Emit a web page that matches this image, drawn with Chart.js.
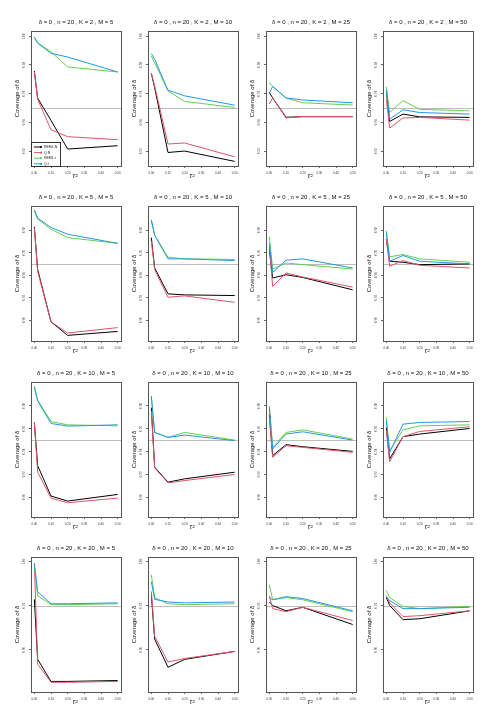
<!DOCTYPE html>
<html>
<head>
<meta charset="utf-8">
<script src="https://cdn.jsdelivr.net/npm/chart.js@4/dist/chart.umd.min.js"></script>
<style>
  html, body { margin: 0; padding: 0; background: #fff; }
  #wrap { position: relative; width: 495px; height: 726px; overflow: hidden; background: #fff; }
  #wrap canvas { position: absolute; }
</style>
</head>
<body>
<div id="wrap"></div>
<script>
// ---- data -------------------------------------------------------------
var tau2 = [0, 0.02, 0.1, 0.2, 0.5];
var Kvals = [2, 5, 10, 20];
var Mvals = [5, 10, 25, 50];
var seriesNames = ['REML.N', 'Q.N', 'REML.t', 'Q.t'];
var seriesColors = ['#000000', '#DF536B', '#61D04F', '#2297E6'];
var xTicks = [0, 0.1, 0.2, 0.3, 0.4, 0.5];
var nominal = 0.95;

// y ticks / ranges per row (K)
var yTicksK2 = [0.92, 0.94, 0.96, 0.98, 1.00];
var yTicksK5 = [0.90, 0.92, 0.94, 0.96, 0.98];
var yTicksK10 = [0.90, 0.92, 0.94, 0.96, 0.98];
var yTicksK20 = [0.90, 0.95, 1.00];
var yRangeK2 = [0.9096, 1.0035];
var yRangeK5 = [0.8815, 1.0015];
var yRangeK10 = [0.8825, 1.001];
var yRangeK20 = [0.852, 1.005];

// coverage, one inner array per M (5, 10, 25, 50)
var remlN_K2 = [[0.9757, 0.9568, 0.9413, 0.9214, 0.9237], [0.974, 0.964, 0.919, 0.920, 0.9128], [0.9607, 0.957, 0.9435, 0.9439, 0.9439], [0.962, 0.9406, 0.9457, 0.9438, 0.9434]];
var qN_K2    = [[0.975, 0.956, 0.9348, 0.930, 0.9279], [0.9739, 0.9653, 0.9249, 0.9256, 0.916], [0.9527, 0.957, 0.943, 0.944, 0.944], [0.956, 0.936, 0.943, 0.9434, 0.9415]];
var remlT_K2 = [[0.9995, 0.9954, 0.989, 0.9785, 0.975], [0.9861, 0.9815, 0.9618, 0.9545, 0.9503], [0.9677, 0.9647, 0.9568, 0.9536, 0.952], [0.9646, 0.9469, 0.955, 0.949, 0.948]];
var qT_K2    = [[0.9988, 0.995, 0.988, 0.9854, 0.975], [0.9877, 0.9838, 0.9623, 0.9584, 0.9519], [0.9603, 0.965, 0.957, 0.9555, 0.9536], [0.9623, 0.9422, 0.9487, 0.9468, 0.9457]];

var remlN_K5 = [[0.983, 0.945, 0.8985, 0.8865, 0.890], [0.9734, 0.9464, 0.9234, 0.9225, 0.9219], [0.9629, 0.9375, 0.9404, 0.938, 0.927], [0.9719, 0.9524, 0.9515, 0.9494, 0.95]];
var qN_K5    = [[0.982, 0.9434, 0.8985, 0.8886, 0.8934], [0.9704, 0.945, 0.9204, 0.9216, 0.9159], [0.9653, 0.93, 0.942, 0.9384, 0.9294], [0.972, 0.948, 0.953, 0.9488, 0.9464]];
var remlT_K5 = [[0.9968, 0.9899, 0.9809, 0.9734, 0.9683], [0.9884, 0.9755, 0.956, 0.9545, 0.954], [0.9743, 0.9455, 0.9509, 0.9494, 0.9455], [0.9794, 0.9563, 0.9584, 0.9545, 0.9515]];
var qT_K5    = [[0.9983, 0.9908, 0.9824, 0.9764, 0.9683], [0.9893, 0.9755, 0.9545, 0.9545, 0.953], [0.9683, 0.9425, 0.9533, 0.9545, 0.9464], [0.978, 0.9524, 0.9575, 0.9524, 0.95]];

var remlN_K10 = [[0.9655, 0.9276, 0.9009, 0.8965, 0.9023], [0.9785, 0.9262, 0.9131, 0.916, 0.9218], [0.9727, 0.9364, 0.946, 0.9442, 0.9401], [0.9611, 0.9335, 0.953, 0.9553, 0.9602]];
var qN_K10    = [[0.9655, 0.9218, 0.8991, 0.895, 0.8991], [0.9756, 0.9256, 0.9125, 0.9145, 0.9198], [0.9698, 0.9349, 0.9451, 0.9436, 0.9393], [0.9582, 0.9311, 0.953, 0.9576, 0.9617]];
var remlT_K10 = [[0.9975, 0.985, 0.9663, 0.9634, 0.9625], [0.9873, 0.9567, 0.9524, 0.9567, 0.95], [0.98, 0.9436, 0.9567, 0.959, 0.9509], [0.9698, 0.9407, 0.959, 0.9625, 0.9634]];
var qT_K10    = [[0.996, 0.9844, 0.9646, 0.9623, 0.9634], [0.9887, 0.9567, 0.9524, 0.9544, 0.9495], [0.9785, 0.9422, 0.9553, 0.9573, 0.95], [0.9669, 0.9393, 0.964, 0.9655, 0.9663]];

var remlN_K20 = [[0.957, 0.889, 0.864, 0.864, 0.865], [0.962, 0.912, 0.880, 0.889, 0.898], [0.954, 0.950, 0.944, 0.948, 0.9285], [0.959, 0.950, 0.934, 0.935, 0.944]];
var qN_K20    = [[0.998, 0.8835, 0.863, 0.863, 0.864], [0.966, 0.915, 0.886, 0.890, 0.898], [0.961, 0.9465, 0.943, 0.948, 0.933], [0.961, 0.953, 0.9375, 0.9385, 0.944]];
var remlT_K20 = [[0.996, 0.961, 0.951, 0.951, 0.952], [0.9848, 0.959, 0.952, 0.951, 0.952], [0.9735, 0.9566, 0.959, 0.9566, 0.943], [0.967, 0.959, 0.949, 0.9465, 0.949]];
var qT_K20    = [[0.998, 0.9656, 0.952, 0.952, 0.953], [0.977, 0.957, 0.954, 0.953, 0.954], [0.959, 0.9566, 0.960, 0.958, 0.944], [0.960, 0.9555, 0.9465, 0.9465, 0.948]];

var rows = [
    { yTicks: yTicksK2, yRange: yRangeK2, series: [remlN_K2, qN_K2, remlT_K2, qT_K2] },
    { yTicks: yTicksK5, yRange: yRangeK5, series: [remlN_K5, qN_K5, remlT_K5, qT_K5] },
    { yTicks: yTicksK10, yRange: yRangeK10, series: [remlN_K10, qN_K10, remlT_K10, qT_K10] },
    { yTicks: yTicksK20, yRange: yRangeK20, series: [remlN_K20, qN_K20, remlT_K20, qT_K20] }
];

// ---- layout (plot box positions) --------------------------------------
var boxLeft = [31, 148, 265.5, 382.5];
var boxTop = [30.5, 206, 381.5, 557];
var boxW = 90, boxH = 135;
var padL = 31, padT = 30, padR = 3, padB = 16;
var FONT = '"Liberation Sans", Arial, Helvetica, sans-serif';

// ---- decorations: box, reference line, titles, y labels, legend --------
var panelDecor = {
    id: 'panelDecor',
    beforeDatasetsDraw: function (chart) {
        var a = chart.chartArea, ctx = chart.ctx;
        var y = Math.round(chart.scales.y.getPixelForValue(nominal)) + 0.5;
        ctx.save();
        ctx.strokeStyle = '#bdbdbd';
        ctx.lineWidth = 1;
        ctx.beginPath();
        ctx.moveTo(a.left, y);
        ctx.lineTo(a.right, y);
        ctx.stroke();
        ctx.restore();
    },
    afterDraw: function (chart, args, opts) {
        var a = chart.chartArea, ctx = chart.ctx, ys = chart.scales.y;
        ctx.save();
        // box
        ctx.strokeStyle = '#555';
        ctx.lineWidth = 1;
        ctx.strokeRect(Math.round(a.left) + 0.5, Math.round(a.top) + 0.5, Math.round(a.right - a.left), Math.round(a.bottom - a.top));

        // main title
        ctx.fillStyle = '#111';
        ctx.textAlign = 'center';
        ctx.textBaseline = 'middle';
        ctx.font = '6px ' + FONT;
        ctx.fillText(opts.title, (a.left + a.right) / 2, a.top - 9);

        // x title
        ctx.font = 'italic 7px ' + FONT;
        ctx.fillText('\u03C4\u00B2', (a.left + a.right) / 2 - 1, a.bottom + 10);

        // y title
        ctx.save();
        ctx.translate(a.left - 14, (a.top + a.bottom) / 2);
        ctx.rotate(-Math.PI / 2);
        ctx.font = '6px ' + FONT;
        ctx.fillText('Coverage of \u03B4', 0, 0);
        ctx.restore();

        // y tick labels (rotated, R style)
        ctx.font = '3px ' + FONT;
        ctx.fillStyle = '#333';
        ys.ticks.forEach(function (t) {
            var py = ys.getPixelForValue(t.value);
            ctx.save();
            ctx.translate(a.left - 7, py);
            ctx.rotate(-Math.PI / 2);
            ctx.fillText(t.value.toFixed(2), 0, 0);
            ctx.restore();
        });

        // legend
        if (opts.legend) {
            var lx = a.left, lw = 29, lh = 24, ly = a.bottom - lh;
            ctx.fillStyle = '#fff';
            ctx.fillRect(lx, ly, lw, lh);
            ctx.strokeStyle = '#333';
            ctx.strokeRect(Math.round(lx) + 0.5, Math.round(ly) + 0.5, lw, lh);
            ctx.textAlign = 'left';
            ctx.font = '3.5px ' + FONT;
            seriesNames.forEach(function (name, i) {
                var yy = ly + 5 + i * 5.6;
                ctx.strokeStyle = seriesColors[i];
                ctx.lineWidth = 1;
                ctx.beginPath();
                ctx.moveTo(lx + 3, yy);
                ctx.lineTo(lx + 10, yy);
                ctx.stroke();
                ctx.fillStyle = seriesColors[i];
                ctx.beginPath();
                ctx.arc(lx + 10, yy, 1.1, 0, Math.PI * 2);
                ctx.fill();
                ctx.fillStyle = '#222';
                ctx.fillText(name, lx + 13, yy + 0.3);
            });
        }
        ctx.restore();
    }
};

// ---- build panels ------------------------------------------------------
var wrap = document.getElementById('wrap');

rows.forEach(function (row, r) {
    Mvals.forEach(function (M, c) {
        var cv = document.createElement('canvas');
        var w = padL + boxW + padR, h = padT + boxH + padB;
        cv.width = w;
        cv.height = h;
        cv.style.width = w + 'px';
        cv.style.height = h + 'px';
        cv.style.left = (boxLeft[c] - padL) + 'px';
        cv.style.top = (boxTop[r] - padT) + 'px';
        wrap.appendChild(cv);

        var datasets = row.series.map(function (s, i) {
            return {
                label: seriesNames[i],
                data: tau2.map(function (x, j) { return { x: x, y: s[c][j] }; }),
                borderColor: seriesColors[i],
                backgroundColor: seriesColors[i],
                borderWidth: 1,
                pointRadius: 0,
                tension: 0,
                fill: false
            };
        }).reverse();

        new Chart(cv, {
            type: 'line',
            data: { datasets: datasets },
            plugins: [panelDecor],
            options: {
                responsive: false,
                animation: false,
                devicePixelRatio: 1,
                layout: { padding: { top: padT, right: padR, bottom: 0, left: 0 } },
                scales: {
                    x: {
                        type: 'linear',
                        min: -0.02,
                        max: 0.52,
                        afterBuildTicks: function (s) { s.ticks = xTicks.map(function (v) { return { value: v }; }); },
                        afterFit: function (s) { s.height = padB; s.paddingLeft = 0; s.paddingRight = 0; },
                        grid: { drawOnChartArea: false, drawTicks: true, tickLength: 2, color: '#444', lineWidth: 0.8 },
                        border: { display: false },
                        ticks: {
                            autoSkip: false, maxRotation: 0, minRotation: 0, padding: 3,
                            font: { size: 3, family: FONT }, color: '#333',
                            callback: function (v) { return Number(v).toFixed(2); }
                        }
                    },
                    y: {
                        min: row.yRange[0],
                        max: row.yRange[1],
                        afterBuildTicks: function (s) { s.ticks = row.yTicks.map(function (v) { return { value: v }; }); },
                        afterFit: function (s) { s.width = padL; s.paddingTop = 0; s.paddingBottom = 0; },
                        grid: { drawOnChartArea: false, drawTicks: true, tickLength: 2, color: '#444', lineWidth: 0.8 },
                        border: { display: false },
                        ticks: { display: false }
                    }
                },
                plugins: {
                    legend: { display: false },
                    tooltip: { enabled: false },
                    panelDecor: {
                        title: '\u03B4 = 0 , n = 20 , K = ' + Kvals[r] + ' , M = ' + M,
                        legend: r === 0 && c === 0
                    }
                }
            }
        });
    });
});
</script>
</body>
</html>
